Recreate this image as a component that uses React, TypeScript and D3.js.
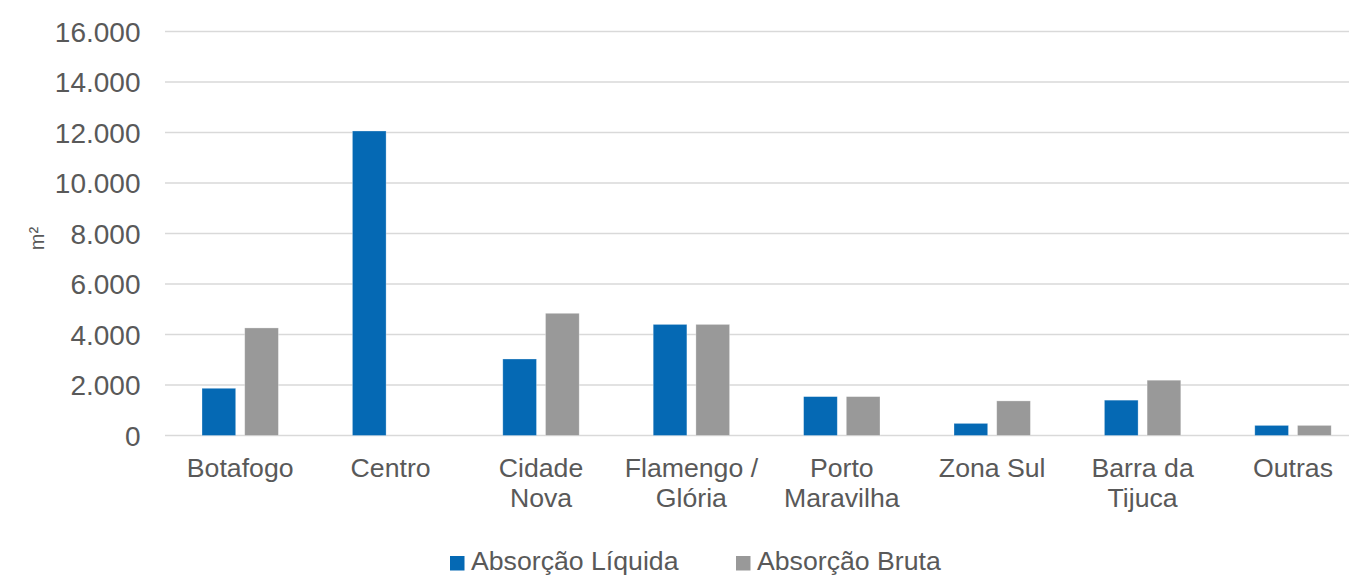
import React from "react";
import * as d3 from "d3";

const categories = ["Botafogo", "Centro", "Cidade Nova", "Flamengo / Glória", "Porto Maravilha", "Zona Sul", "Barra da Tijuca", "Outras"];
const categoryLines = [["Botafogo"], ["Centro"], ["Cidade", "Nova"], ["Flamengo /", "Glória"], ["Porto", "Maravilha"], ["Zona Sul"], ["Barra da", "Tijuca"], ["Outras"]];
const seriesNames = ["Absorção Líquida", "Absorção Bruta"];
const liquida = [1870, 12060, 3030, 4400, 1540, 480, 1400, 400];
const bruta = [4260, 0, 4840, 4400, 1540, 1370, 2190, 400];
const yTicks = [0, 2000, 4000, 6000, 8000, 10000, 12000, 14000, 16000];
const yTitle = "m²";
const colors = ["#0569B4", "#999999"];

const W = 1349;
const H = 575;
const FONT = "'Liberation Sans', Arial, sans-serif";
const TEXT = "#595959";

export default function App() {
  const x0 = 165;
  const step = 150.4;
  const x = d3.scaleBand<string>().domain(categories).range([x0, x0 + step * categories.length]).padding(0);
  const y = d3.scaleLinear().domain([0, 16000]).range([435.5, 31.5]);
  const groupW = 76.4;
  const inner = d3.scaleBand<string>().domain(seriesNames).range([0, groupW]).paddingInner(0.211).paddingOuter(0);
  const fmt = (v: number) => d3.format(",")(v).replace(/,/g, ".");
  const data = [liquida, bruta];

  return (
    <svg width={W} height={H} style={{ position: "absolute", left: 0, top: 0, background: "#fff" }} fontFamily={FONT}>
      {yTicks.map((t) => (
        <g key={t}>
          <line x1={x0} x2={W} y1={y(t)} y2={y(t)} stroke="#d9d9d9" strokeWidth={1.5} />
          <text x={140.5} y={y(t)} dy="0.36em" textAnchor="end" fontSize={28} fill={TEXT}>
            {fmt(t)}
          </text>
        </g>
      ))}
      <text transform={`translate(44,${y(7800)}) rotate(-90)`} textAnchor="middle" fontSize={20} fill={TEXT}>
        {yTitle}
      </text>
      {categories.map((c, i) => {
        const cx = (x(c) as number) + x.bandwidth() / 2;
        const gx = cx - groupW / 2;
        return (
          <g key={c}>
            {seriesNames.map((s, k) => {
              const v = data[k][i];
              if (v <= 0) return null;
              return (
                <rect
                  key={s}
                  x={gx + (inner(s) as number)}
                  y={y(v)}
                  width={inner.bandwidth()}
                  height={y(0) - y(v)}
                  fill={colors[k]}
                  stroke="#ffffff"
                  strokeOpacity={0.4}
                  strokeWidth={0.75}
                />
              );
            })}
            {categoryLines[i].map((ln, j) => (
              <text key={j} x={cx} y={476.5 + j * 30.5} textAnchor="middle" fontSize={26.67} fill={TEXT}>
                {ln}
              </text>
            ))}
          </g>
        );
      })}
      {seriesNames.map((s, k) => {
        const lx = k === 0 ? 450 : 736;
        return (
          <g key={s}>
            <rect x={lx} y={556} width={14.5} height={14.5} fill={colors[k]} />
            <text x={lx + 21} y={570} fontSize={26.67} fill={TEXT}>
              {s}
            </text>
          </g>
        );
      })}
    </svg>
  );
}
